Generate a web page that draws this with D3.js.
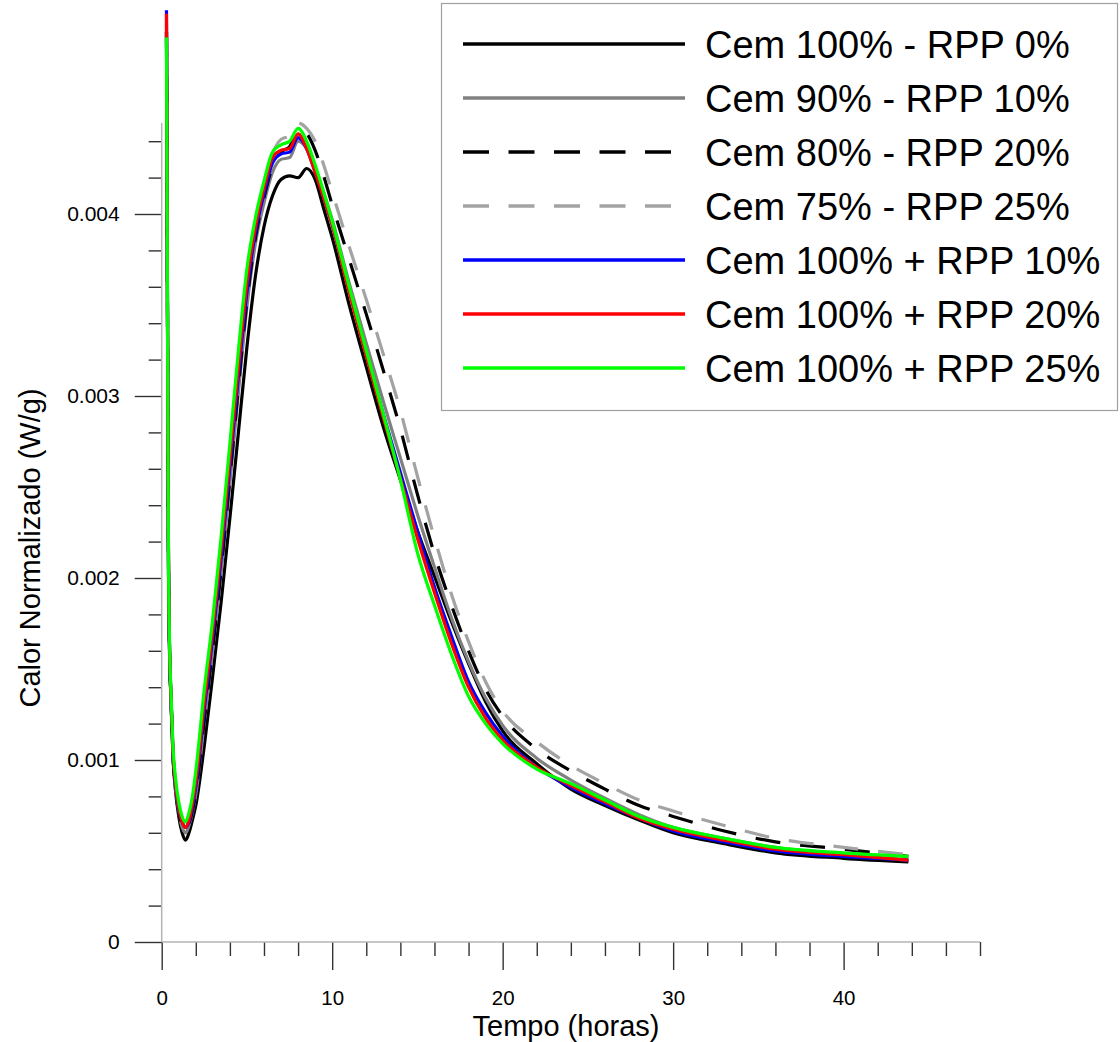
<!DOCTYPE html>
<html>
<head>
<meta charset="utf-8">
<script src="https://cdn.jsdelivr.net/npm/d3@7"></script>
<style>
  body { margin: 0; background: #fff; }
  svg { display: block; }
  text { font-family: "Liberation Sans", Arial, Helvetica, sans-serif; fill: #000; }
</style>
</head>
<body>
<svg id="chart" width="1120" height="1042"></svg>
<script>
// Time axis (hours) shared by every calorimetry series
const hours = [0.28, 0.32, 0.36, 0.40, 0.45, 0.55, 0.66, 0.8, 1.0, 1.2,
               1.4, 1.6, 1.8, 2.0, 2.5, 3.0, 3.5, 4.0, 4.5, 5.0,
               5.5, 6.0, 6.5, 7.0, 7.5, 8.0, 8.5, 9.0, 9.5, 10,
               11, 12, 13, 14, 15, 16, 17, 18, 19, 20,
               22, 24, 26, 28, 30, 33, 36, 40, 43.8];

// Normalised heat flow (W/g)
const cem100_rpp0 = [0.00500, 0.00400, 0.00290, 0.00205, 0.00165, 0.00132, 0.00102, 0.00084, 0.00069, 0.00060,
  0.00056, 0.00060, 0.00067, 0.00075, 0.00108, 0.00147, 0.00188, 0.00233, 0.00280, 0.00327,
  0.00366, 0.00393, 0.00410, 0.00419, 0.00421, 0.00420, 0.00425, 0.00419, 0.00403, 0.00387,
  0.00350, 0.00316, 0.00283, 0.00254, 0.00226, 0.00201, 0.00176, 0.00153, 0.00132, 0.00116,
  0.00098, 0.00084, 0.00075, 0.00067, 0.00060, 0.00054, 0.00049, 0.00046, 0.00044];

const cem90_rpp10 = [0.00500, 0.00400, 0.00290, 0.00205, 0.00166, 0.00132, 0.00103, 0.00086, 0.00071, 0.00063,
  0.00060, 0.00064, 0.00071, 0.00081, 0.00121, 0.00161, 0.00204, 0.00252, 0.00302, 0.00349,
  0.00384, 0.00406, 0.00423, 0.00430, 0.00431, 0.00440, 0.00436, 0.00425, 0.00412, 0.00397,
  0.00362, 0.00329, 0.00297, 0.00266, 0.00235, 0.00206, 0.00178, 0.00154, 0.00134, 0.00119,
  0.00101, 0.00089, 0.00079, 0.00070, 0.00063, 0.00057, 0.00052, 0.00048, 0.00045];

const cem80_rpp20 = [0.00500, 0.00400, 0.00290, 0.00205, 0.00166, 0.00132, 0.00103, 0.00086, 0.00071, 0.00063,
  0.00061, 0.00065, 0.00072, 0.00082, 0.00122, 0.00162, 0.00206, 0.00255, 0.00305, 0.00352,
  0.00387, 0.00409, 0.00426, 0.00434, 0.00437, 0.00446, 0.00444, 0.00435, 0.00421, 0.00405,
  0.00375, 0.00345, 0.00314, 0.00282, 0.00246, 0.00213, 0.00185, 0.00160, 0.00139, 0.00124,
  0.00106, 0.00094, 0.00084, 0.00075, 0.00069, 0.00061, 0.00055, 0.00051, 0.00047];

const cem75_rpp25 = [0.00505, 0.00402, 0.00292, 0.00207, 0.00168, 0.00134, 0.00105, 0.00088, 0.00073, 0.00066,
  0.00063, 0.00067, 0.00076, 0.00088, 0.00131, 0.00171, 0.00216, 0.00265, 0.00315, 0.00361,
  0.00393, 0.00415, 0.00433, 0.00441, 0.00443, 0.00450, 0.00447, 0.00440, 0.00427, 0.00412,
  0.00382, 0.00353, 0.00323, 0.00292, 0.00256, 0.00222, 0.00191, 0.00165, 0.00143, 0.00127,
  0.00110, 0.00097, 0.00087, 0.00078, 0.00072, 0.00064, 0.00057, 0.00052, 0.00048];

const cem100_add10 = [0.00512, 0.00405, 0.00295, 0.00207, 0.00167, 0.00133, 0.00104, 0.00087, 0.00073, 0.00066,
  0.00063, 0.00066, 0.00074, 0.00085, 0.00128, 0.00168, 0.00212, 0.00261, 0.00311, 0.00357,
  0.00390, 0.00411, 0.00428, 0.00433, 0.00434, 0.00442, 0.00436, 0.00423, 0.00409, 0.00394,
  0.00358, 0.00323, 0.00290, 0.00258, 0.00226, 0.00195, 0.00168, 0.00143, 0.00126, 0.00113,
  0.00096, 0.00085, 0.00076, 0.00068, 0.00061, 0.00055, 0.00050, 0.00047, 0.00045];

const cem100_add20 = [0.00510, 0.00405, 0.00295, 0.00208, 0.00168, 0.00134, 0.00105, 0.00088, 0.00074, 0.00066,
  0.00063, 0.00067, 0.00076, 0.00088, 0.00132, 0.00172, 0.00217, 0.00266, 0.00316, 0.00362,
  0.00393, 0.00414, 0.00431, 0.00435, 0.00436, 0.00444, 0.00436, 0.00423, 0.00409, 0.00394,
  0.00357, 0.00322, 0.00288, 0.00255, 0.00222, 0.00192, 0.00164, 0.00140, 0.00123, 0.00111,
  0.00096, 0.00086, 0.00077, 0.00068, 0.00062, 0.00056, 0.00051, 0.00048, 0.00045];

const cem100_add25 = [0.00497, 0.00400, 0.00295, 0.00210, 0.00170, 0.00136, 0.00108, 0.00091, 0.00077, 0.00069,
  0.00066, 0.00071, 0.00080, 0.00094, 0.00139, 0.00178, 0.00224, 0.00274, 0.00325, 0.00370,
  0.00398, 0.00418, 0.00434, 0.00438, 0.00440, 0.00447, 0.00440, 0.00427, 0.00412, 0.00396,
  0.00360, 0.00325, 0.00290, 0.00254, 0.00214, 0.00185, 0.00158, 0.00135, 0.00120, 0.00109,
  0.00095, 0.00087, 0.00078, 0.00069, 0.00063, 0.00057, 0.00052, 0.00049, 0.00047];

const seriesLabels = ["Cem 100% - RPP 0%", "Cem 90% - RPP 10%", "Cem 80% - RPP 20%", "Cem 75% - RPP 25%",
                      "Cem 100% + RPP 10%", "Cem 100% + RPP 20%", "Cem 100% + RPP 25%"];
const seriesValues = [cem100_rpp0, cem90_rpp10, cem80_rpp20, cem75_rpp25, cem100_add10, cem100_add20, cem100_add25];

const xTickValues = [0, 10, 20, 30, 40];
const xTickLabels = ["0", "10", "20", "30", "40"];
const yTickValues = [0, 0.001, 0.002, 0.003, 0.004];
const yTickLabels = ["0", "0.001", "0.002", "0.003", "0.004"];

// Line styling per series
const styles = [
  { color: "#000000", dash: null },
  { color: "#808080", dash: null },
  { color: "#000000", dash: "25,20" },
  { color: "#a3a3a3", dash: "25,20" },
  { color: "#0000ff", dash: null },
  { color: "#ff0000", dash: null },
  { color: "#00ff00", dash: null }
];

const svg = d3.select("#chart");
const x = d3.scaleLinear().domain([0, 48]).range([161.7, 980]);
const y = d3.scaleLinear().domain([0, 0.0045]).range([942, 123]);

const axisColor = "#b4b4b4";
const tickColor = "#333";

// X axis: minor ticks every 2 h, major every 10 h
const gx = svg.append("g").attr("transform", "translate(0,942)");
gx.append("g")
  .call(d3.axisBottom(x).tickValues(d3.range(0, 49, 2).filter(v => v % 10 !== 0)).tickSize(14).tickFormat(""))
  .call(g => g.select(".domain").remove());
gx.append("g")
  .call(d3.axisBottom(x).tickValues(xTickValues).tickSize(28).tickPadding(20)
        .tickFormat((d, i) => xTickLabels[i]))
  .call(g => g.select(".domain").remove())
  .call(g => g.selectAll("text").attr("font-size", 20.5).attr("font-family", null));
gx.selectAll(".tick line").attr("stroke", tickColor).attr("stroke-width", 1.4);
gx.append("line").attr("x1", x(0)).attr("x2", x(48)).attr("y1", 0).attr("y2", 0)
  .attr("stroke", axisColor).attr("stroke-width", 1.5);

// Y axis: minor ticks every 0.0002, major every 0.001
const gy = svg.append("g").attr("transform", "translate(161.7,0)");
gy.append("g")
  .call(d3.axisLeft(y).tickValues(d3.range(0, 23).map(i => i * 0.0002).filter(i => Math.round(i * 10000) % 10 !== 0))
        .tickSize(13).tickFormat(""))
  .call(g => g.select(".domain").remove());
gy.append("g")
  .call(d3.axisLeft(y).tickValues(yTickValues).tickSize(27).tickPadding(15)
        .tickFormat((d, i) => yTickLabels[i]))
  .call(g => g.select(".domain").remove())
  .call(g => g.selectAll("text").attr("font-size", 21).attr("font-family", null));
gy.selectAll(".tick line").attr("stroke", tickColor).attr("stroke-width", 1.4);
gy.append("line").attr("x1", 0).attr("x2", 0).attr("y1", y(0)).attr("y2", y(0.0045))
  .attr("stroke", axisColor).attr("stroke-width", 1.5);

// Axis titles
svg.append("text").attr("x", 566).attr("y", 1036).attr("text-anchor", "middle")
  .attr("font-size", 29).text("Tempo (horas)");
svg.append("text").attr("transform", "translate(40,548) rotate(-90)").attr("text-anchor", "middle")
  .attr("font-size", 29).text("Calor Normalizado (W/g)");

// Curves
const line = d3.line()
  .x((d, i) => x(hours[i]))
  .y(d => y(d))
  .curve(d3.curveMonotoneX);

svg.append("g").selectAll("path")
  .data(seriesValues)
  .join("path")
  .attr("d", d => line(d))
  .attr("fill", "none")
  .attr("stroke", (d, i) => styles[i].color)
  .attr("stroke-width", 3.2)
  .attr("stroke-dasharray", (d, i) => styles[i].dash)
  .attr("stroke-linejoin", "round");

// Legend
const legend = svg.append("g");
legend.append("rect").attr("x", 441.5).attr("y", 3.5).attr("width", 676).attr("height", 407)
  .attr("fill", "#fff").attr("stroke", "#a0a0a0").attr("stroke-width", 1.2);
const rows = legend.selectAll("g.row").data(seriesLabels).join("g")
  .attr("class", "row")
  .attr("transform", (d, i) => `translate(0,${44 + i * 54})`);
rows.append("line").attr("x1", 463).attr("x2", 685).attr("y1", 0).attr("y2", 0)
  .attr("stroke", (d, i) => styles[i].color)
  .attr("stroke-width", 3.6)
  .attr("stroke-dasharray", (d, i) => styles[i].dash ? "26,19.5" : null);
rows.append("text").attr("x", 705).attr("y", 13.5).attr("font-size", 38).text(d => d);
</script>
</body>
</html>
